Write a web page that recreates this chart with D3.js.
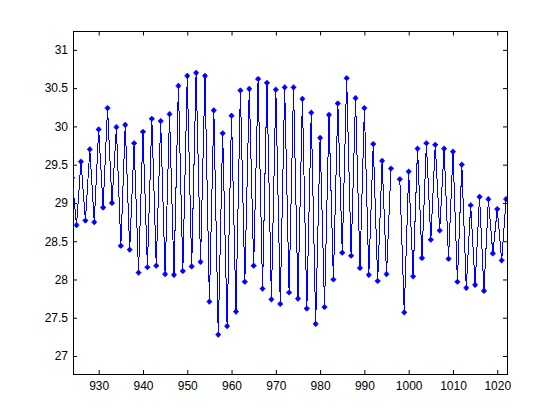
<!DOCTYPE html>
<html>
<head>
<meta charset="utf-8">
<script src="https://cdn.jsdelivr.net/npm/d3@7"></script>
<style>
  body { margin: 0; background: #fff; }
  .axis text { font-family: "Liberation Sans", Arial, sans-serif; font-size: 12px; fill: #000; }
  .axis path, .axis line { stroke: #000; }
</style>
</head>
<body>
<div class="chart"></div>
<script>
// sample index (x) and measured value (y); 997 is missing
var xValues = [924, 925, 926, 927, 928, 929, 930, 931, 932, 933, 934, 935, 936, 937, 938, 939,
  940, 941, 942, 943, 944, 945, 946, 947, 948, 949, 950, 951, 952, 953, 954, 955, 956, 957, 958, 959,
  960, 961, 962, 963, 964, 965, 966, 967, 968, 969, 970, 971, 972, 973, 974, 975, 976, 977, 978, 979,
  980, 981, 982, 983, 984, 985, 986, 987, 988, 989, 990, 991, 992, 993, 994, 995, 996, 997, 998, 999,
  1000, 1001, 1002, 1003, 1004, 1005, 1006, 1007, 1008, 1009, 1010, 1011, 1012, 1013, 1014, 1015,
  1016, 1017, 1018, 1019, 1020, 1021, 1022];

var yValues = [29.33, 28.71, 29.54, 28.77, 29.70, 28.75, 29.96, 28.94, 30.24, 29.00, 29.99, 28.44,
  30.02, 28.39, 29.78, 28.09, 29.93, 28.16, 30.10, 28.18, 30.07, 28.07, 30.16, 28.06, 30.53, 28.11,
  30.66, 28.17, 30.70, 28.23, 30.66, 27.71, 30.21, 27.28, 29.91, 27.39, 30.14, 27.58, 30.47, 27.97,
  30.49, 28.18, 30.62, 27.88, 30.57, 27.74, 30.48, 27.68, 30.51, 27.83, 30.51, 27.75, 30.36, 27.62,
  30.18, 27.42, 29.85, 27.64, 30.15, 28.00, 30.30, 28.35, 30.63, 28.31, 30.37, 28.15, 30.24, 28.06,
  29.77, 27.98, 29.55, 28.07, 29.45, null, 29.31, 27.57, 29.41, 28.04, 29.71, 28.28, 29.78, 28.52,
  29.76, 28.64, 29.71, 28.27, 29.67, 27.97, 29.50, 27.89, 28.97, 27.93, 29.08, 27.85, 29.05, 28.34,
  28.92, 28.25, 29.05];

var xTicks = [930, 940, 950, 960, 970, 980, 990, 1000, 1010, 1020];
var yTicks = [27, 27.5, 28, 28.5, 29, 29.5, 30, 30.5, 31];

// MATLAB-like axes box inside a 560x420 figure
var margin = {top: 31.5, right: 53, bottom: 46, left: 73},
    width = 560 - margin.left - margin.right,
    height = 420 - margin.top - margin.bottom;

var data = xValues.map(function(d, i) { return {x: d, y: yValues[i]}; });

var x = d3.scaleLinear().domain([924.2, 1022.2]).range([0, width]);
var y = d3.scaleLinear().domain([26.765, 31.24]).range([height, 0]);

var svg = d3.select(".chart")
    .append("svg")
    .attr("width", 560)
    .attr("height", 420)
    .append("g")
    .attr("transform", "translate(" + margin.left + "," + margin.top + ")");

svg.append("clipPath").attr("id", "clip")
  .append("rect").attr("width", width).attr("height", height);

var fmt = function(d) { return d % 1 ? d.toFixed(1) : String(d); };

// bottom + left axes with labels, ticks pointing in
svg.append("g")
    .attr("class", "axis")
    .attr("transform", "translate(0," + height + ")")
    .call(d3.axisBottom(x).tickValues(xTicks).tickSize(-4).tickPadding(7).tickFormat(fmt));

svg.append("g")
    .attr("class", "axis")
    .call(d3.axisLeft(y).tickValues(yTicks).tickSize(-4).tickPadding(5).tickFormat(fmt));

// top + right axes, ticks only
svg.append("g")
    .attr("class", "axis")
    .call(d3.axisTop(x).tickValues(xTicks).tickSize(-4).tickFormat(""));

svg.append("g")
    .attr("class", "axis")
    .attr("transform", "translate(" + width + ",0)")
    .call(d3.axisRight(y).tickValues(yTicks).tickSize(-4).tickFormat(""));

svg.selectAll(".axis .domain").attr("d", null);
svg.append("rect")
    .attr("width", width)
    .attr("height", height)
    .attr("fill", "none")
    .attr("stroke", "#000")
    .attr("shape-rendering", "crispEdges");

var line = d3.line()
    .defined(function(d) { return d.y != null; })
    .x(function(d) { return x(d.x); })
    .y(function(d) { return y(d.y); });

var plot = svg.append("g").attr("clip-path", "url(#clip)");

plot.append("path")
    .datum(data)
    .attr("d", line)
    .attr("fill", "none")
    .attr("stroke", "#0000ff")
    .attr("stroke-width", 1)
    .attr("shape-rendering", "crispEdges");

// plus-star markers
plot.selectAll(".pt")
    .data(data.filter(function(d) { return d.y != null; }))
    .enter().append("path")
    .attr("class", "pt")
    .attr("transform", function(d) { return "translate(" + x(d.x) + "," + y(d.y) + ")"; })
    .attr("d", "M-2.8,0H2.8M0,-2.8V2.8M-1.6,-1.6L1.6,1.6M-1.6,1.6L1.6,-1.6")
    .attr("stroke", "#0000ff")
    .attr("stroke-width", 1.4)
    .attr("fill", "none");
</script>
</body>
</html>
